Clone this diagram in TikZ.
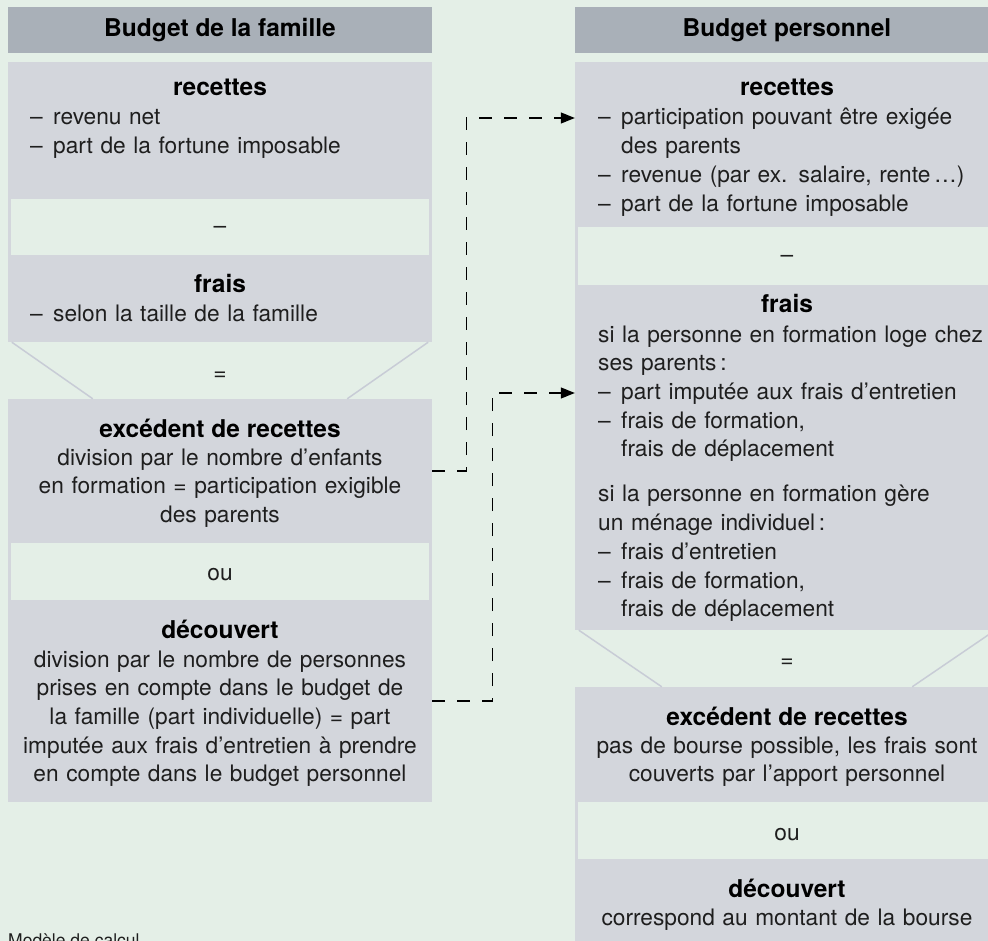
\documentclass[tikz,border=0pt]{standalone}
\usepackage{fontspec}
\setmainfont{TeX Gyre Heros}
\usetikzlibrary{arrows.meta,calc}
\definecolor{fond}{RGB}{228,239,231}
\definecolor{gris}{RGB}{211,214,220}
\definecolor{entete}{RGB}{169,176,184}
\definecolor{ligne}{RGB}{200,204,214}
\definecolor{encre}{RGB}{30,30,30}
\newcommand{\tiret}{\makebox[23pt][l]{–}}
\newcommand{\retrait}{\hspace*{23pt}}
\begin{document}
\begin{tikzpicture}[x=1pt,y=-1pt,
  tete/.style={fill=entete,minimum width=424pt,minimum height=46pt,inner sep=0pt,
    font=\bfseries\fontsize{24.5}{28.7}\selectfont},
  bloc/.style={fill=gris,minimum width=424pt,inner sep=0pt},
  bande/.style={fill=fond,draw=gris,line width=3pt,minimum width=421pt,inner sep=0pt},
  titre/.style={font=\bfseries\fontsize{24.5}{28.7}\selectfont,anchor=base,inner sep=0pt},
  texte/.style={font=\fontsize{22.7}{28.7}\selectfont,inner sep=0pt,text=encre},
  liste/.style={texte,anchor=base west,text width=395pt,align=left},
  centre/.style={texte,anchor=base,text width=420pt,align=center},
  signe/.style={texte,anchor=base},
  trait/.style={draw=ligne,line width=1.5pt},
  renvoi/.style={dash pattern=on 13pt off 12pt,line width=1.2pt,-{Triangle[length=14pt,width=11pt]}}]
\useasboundingbox (0,0) rectangle (988,941);
\fill[fond] (0,0) rectangle (988,941);

\node[tete] (teteL) at (220,30) {Budget de la famille};
\node[tete] (teteR) at (787,30) {Budget personnel};

\node[bloc,minimum height=137pt] (recL) at (220,130.5) {};
\node[bloc,minimum height=87pt] (fraisL) at (220,298.5) {};
\node[bande,minimum height=59pt] (moinsL) at (220,227) {};
\node[bloc,minimum height=144pt] (excL) at (220,471) {};
\node[bloc,minimum height=202pt] (decL) at (220,701) {};
\node[bande,minimum height=60pt] (ouL) at (220,571.5) {};

\node[bloc,minimum height=165pt] (recR) at (787,144.5) {};
\node[bloc,minimum height=345pt] (fraisR) at (787,457.5) {};
\node[bande,minimum height=61pt] (moinsR) at (787,256) {};
\node[bloc,minimum height=115pt] (excR) at (787,744.5) {};
\node[bloc,minimum height=101pt] (decR) at (787,909.5) {};
\node[bande,minimum height=60pt] (ouR) at (787,830.5) {};

\node[titre] (recLt) at (220,96) {recettes};
\node[liste] (lstRecL) at (30,125) {\tiret revenu net\\\tiret part de la fortune imposable};
\node[signe] (moinsLt) at (220,234) {–};
\node[titre] (fraisLt) at (220,293) {frais};
\node[liste] (lstFraisL) at (30,322) {\tiret selon la taille de la famille};
\node[signe] (egalL) at (220,380) {=};
\node[titre] (excLt) at (220,437) {excédent de recettes};
\node[centre] (txtExcL) at (220,465) {division par le nombre d’enfants\\en formation = participation exigible\\des parents};
\node[signe] (ouLt) at (220,580) {ou};
\node[titre] (decLt) at (220,638) {découvert};
\node[centre] (txtDecL) at (220,667) {division par le nombre de personnes\\prises en compte dans le budget de\\la famille (part individuelle) = part\\imputée aux frais d’entretien à prendre\\en compte dans le budget personnel};

\node[titre] (recRt) at (787,96) {recettes};
\node[liste] (lstRecR) at (598,125) {\tiret participation pouvant être exigée\\\retrait des parents\\\tiret revenue (par ex. salaire, rente\,…)\\\tiret part de la fortune imposable};
\node[signe] (moinsRt) at (787,263) {–};
\node[titre] (fraisRt) at (787,313) {frais};
\node[liste] (lstFraisR) at (598,342) {si la personne en formation loge chez\\ses parents\,:\\\tiret part imputée aux frais d’entretien\\\tiret frais de formation,\\\retrait frais de déplacement\\[16.5pt]si la personne en formation gère\\un ménage individuel\,:\\\tiret frais d’entretien\\\tiret frais de formation,\\\retrait frais de déplacement};
\node[signe] (egalR) at (787,667) {=};
\node[titre] (excRt) at (787,725) {excédent de recettes};
\node[centre] (txtExcR) at (787,753) {pas de bourse possible, les frais sont\\couverts par l’apport personnel};
\node[signe] (ouRt) at (787,840) {ou};
\node[titre] (decRt) at (787,897) {découvert};
\node[centre] (txtDecR) at (787,925) {correspond au montant de la bourse};

\node[texte,font=\fontsize{17.5}{20}\selectfont,anchor=base west] (legende) at (8,946) {Modèle de calcul};

\draw[trait] ([xshift=4pt]fraisL.south west) -- ([xshift=85pt]excL.north west);
\draw[trait] ([xshift=-4pt]fraisL.south east) -- ([xshift=-85pt]excL.north east);
\draw[trait] ([xshift=4pt]fraisR.south west) -- ([xshift=87pt]excR.north west);
\draw[trait] ([xshift=-4pt]fraisR.south east) -- ([xshift=-87pt]excR.north east);

\draw[renvoi] (excL.east) -- ++(34,0) |- ($(recR.west |- lstRecR.base)+(0,-7)$);
\draw[renvoi] (decL.east) -- ++(60,0) |- ($(fraisR.west |- lstFraisR.base)+(0,51)$);
\end{tikzpicture}
\end{document}
